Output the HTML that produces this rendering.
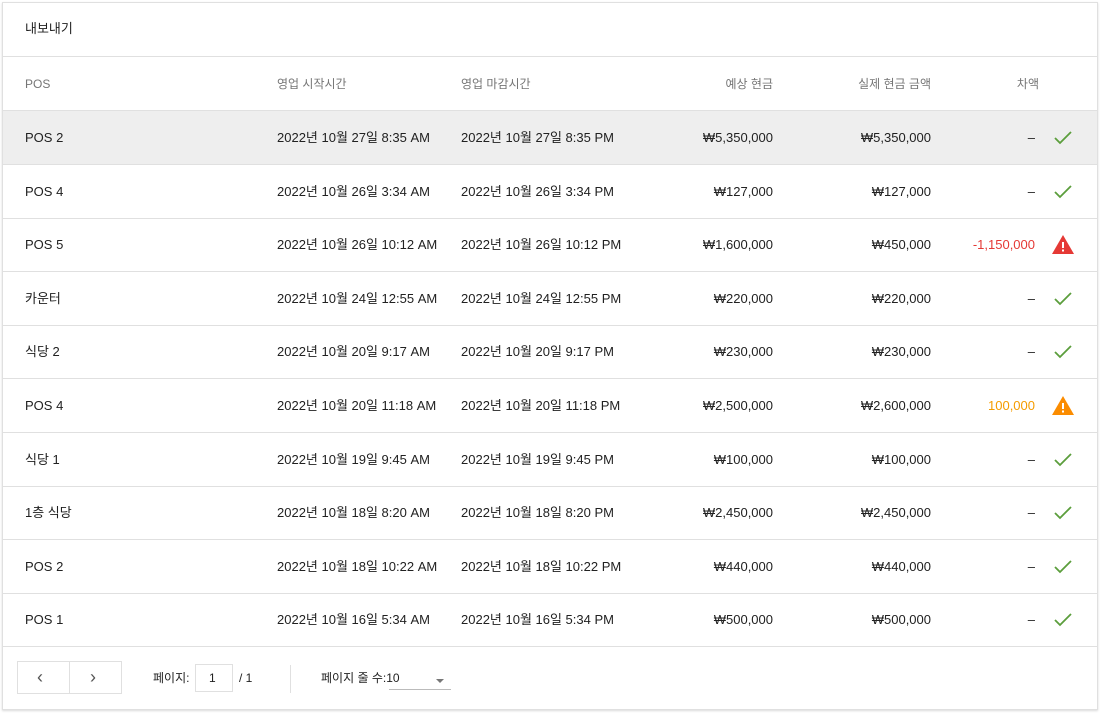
<!DOCTYPE html>
<html><head><meta charset="utf-8"><style>
body{margin:0;width:1101px;height:713px;background:#fff;font-family:"Liberation Sans","Noto Sans CJK KR",sans-serif;position:relative;overflow:hidden}
.card{position:absolute;left:2px;top:2px;width:1094px;height:706px;border:1px solid #e0e0e0;box-shadow:0 1px 2px rgba(0,0,0,.15);background:#fff}
.t{position:absolute;font-size:13px;color:#212121;white-space:nowrap;line-height:16px;height:16px}
.h{color:#757575;font-size:12px}
.line{position:absolute;left:0;width:1094px;height:1px;background:#e0e0e0}
.r{text-align:right}
</style></head><body>
<div class="card">
<div class="t" style="left:22px;top:18px">내보내기</div>
<div class="line" style="top:53px"></div>
<div class="t h" style="left:22px;top:73px">POS</div>
<div class="t h" style="left:274px;top:73px">영업 시작시간</div>
<div class="t h" style="left:458px;top:73px">영업 마감시간</div>
<div class="t h r" style="right:324px;top:73px">예상 현금</div>
<div class="t h r" style="right:166px;top:73px">실제 현금 금액</div>
<div class="t h r" style="right:58px;top:73px">차액</div>
<div class="line" style="top:107px"></div>
<div style="position:absolute;left:0;top:108px;width:1094px;height:53px;background:#eeeeee"></div>
<div id="rows"></div>
<div style="position:absolute;left:14px;top:658px;width:103px;height:31px;border:1px solid #e0e0e0"></div>
<div style="position:absolute;left:66px;top:658px;width:1px;height:33px;background:#e0e0e0"></div>
<div class="t" style="left:34px;top:666px;color:#555;font-size:18px">‹</div>
<div class="t" style="left:87px;top:666px;color:#555;font-size:18px">›</div>
<div class="t" style="left:150px;top:667px;font-size:12px">페이지:</div>
<div style="position:absolute;left:192px;top:661px;width:36px;height:26px;border:1px solid #e0e0e0"></div>
<div class="t" style="left:206px;top:667px;font-size:12px">1</div>
<div class="t" style="left:236px;top:667px;font-size:12px">/ 1</div>
<div style="position:absolute;left:287px;top:662px;width:1px;height:28px;background:#e0e0e0"></div>
<div class="t" style="left:318px;top:667px;font-size:12px">페이지 줄 수:10</div>
<div style="position:absolute;left:386px;top:686px;width:62px;height:1px;background:#bbb"></div>
<div style="position:absolute;left:433px;top:676px;border:4px solid transparent;border-top:4px solid #777"></div>
</div>
<script>
var d=[["POS 2","27일 8:35 AM","27일 8:35 PM","₩5,350,000","₩5,350,000","",0],
["POS 4","26일 3:34 AM","26일 3:34 PM","₩127,000","₩127,000","",0],
["POS 5","26일 10:12 AM","26일 10:12 PM","₩1,600,000","₩450,000","-1,150,000",1],
["카운터","24일 12:55 AM","24일 12:55 PM","₩220,000","₩220,000","",0],
["식당 2","20일 9:17 AM","20일 9:17 PM","₩230,000","₩230,000","",0],
["POS 4","20일 11:18 AM","20일 11:18 PM","₩2,500,000","₩2,600,000","100,000",2],
["식당 1","19일 9:45 AM","19일 9:45 PM","₩100,000","₩100,000","",0],
["1층 식당","18일 8:20 AM","18일 8:20 PM","₩2,450,000","₩2,450,000","",0],
["POS 2","18일 10:22 AM","18일 10:22 PM","₩440,000","₩440,000","",0],
["POS 1","16일 5:34 AM","16일 5:34 PM","₩500,000","₩500,000","",0]];
var h="";
d.forEach(function(r,i){var y=108+i*53.6;var ty=y+19;
h+='<div class="t" style="left:22px;top:'+ty+'px">'+r[0]+'</div>';
h+='<div class="t" style="left:274px;top:'+ty+'px">2022년 10월 '+r[1]+'</div>';
h+='<div class="t" style="left:458px;top:'+ty+'px">2022년 10월 '+r[2]+'</div>';
h+='<div class="t r" style="right:324px;top:'+ty+'px">'+r[3]+'</div>';
h+='<div class="t r" style="right:166px;top:'+ty+'px">'+r[4]+'</div>';
var c=r[6]==1?'#e53935':r[6]==2?'#f59c00':'#212121';
h+='<div class="t r" style="right:62px;top:'+ty+'px;color:'+c+'">'+(r[5]||'–')+'</div>';
if(r[6]){var f=r[6]==1?'#e53935':'#fb8c00';
h+='<svg style="position:absolute;left:1048px;top:'+(y+16)+'px" width="24" height="22" viewBox="0 0 24 22"><path d="M12 1L23 20H1Z" fill="'+f+'"/><rect x="11" y="8" width="2" height="6" fill="#fff"/><rect x="11" y="15.5" width="2" height="2" fill="#fff"/></svg>';}
else h+='<svg style="position:absolute;left:1050px;top:'+(y+19)+'px" width="20" height="16" viewBox="0 0 20 16"><path d="M2 8l5 5L18 2" stroke="#5b9e3c" stroke-width="1.8" fill="none"/></svg>';
h+='<div class="line" style="top:'+(y+53)+'px"></div>';});
document.getElementById("rows").outerHTML=h;
</script>
</body></html>
